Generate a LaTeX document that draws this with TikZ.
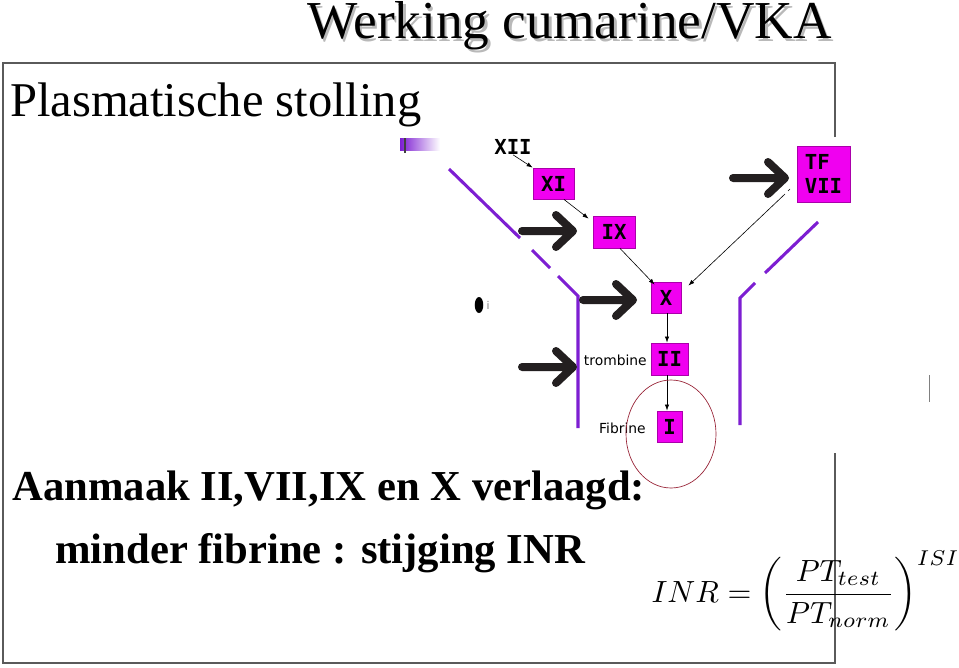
\documentclass[tikz,border=0pt]{standalone}
\usepackage{fontspec}
\setmainfont{Liberation Serif}
\newfontfamily\vsans{DejaVu Sans}
\newfontfamily\vmono{DejaVu Sans Mono}
\usetikzlibrary{calc,arrows.meta}
\definecolor{mag}{RGB}{240,0,240}
\definecolor{magborder}{RGB}{170,0,170}
\definecolor{purp}{RGB}{125,30,210}
\definecolor{arrblack}{RGB}{35,31,32}
\definecolor{ringred}{RGB}{150,30,50}
\definecolor{framegray}{RGB}{90,90,90}
\tikzset{
  factor/.style={draw=magborder, line width=0.6pt, fill=mag, inner sep=0pt,
    font=\vmono\bfseries\fontsize{15.5}{17.5}\selectfont},
  lbl/.style={inner sep=0pt, font=\vsans\fontsize{10.4}{12}\selectfont},
  thinarr/.style={line width=0.45pt, -{Latex[length=4.5pt,width=3.2pt]}},
  purpline/.style={purp, line width=2.3pt},
  bigarrow/.style={arrblack, line width=6pt, line cap=round, line join=round},
}
\newcommand\bigarr[2]{\draw[bigarrow] (#1) -- ++(#2,0) ++(-17,-16) -- ++(17,16) -- ++(-17,16);}
\begin{document}
\begin{tikzpicture}[x=0.75pt,y=-0.75pt]
\useasboundingbox (0,0) rectangle (959,667);
\fill[white] (0,0) rectangle (959,667);
% frame
\draw[line width=0.9pt, framegray] (835,137) -- (835,63) -- (3,63) -- (3,663) -- (835,663) -- (835,453);
\draw[line width=0.6pt, gray] (929,375) -- (929,402);
% titles
\node[anchor=base west, inner sep=0, text=gray!55, font=\fontsize{40}{40}\selectfont] at (309.5,41) {Werking cumarine/VKA};
\node[anchor=base west, inner sep=0, font=\fontsize{40}{40}\selectfont] (title) at (307,38.5) {Werking cumarine/VKA};
\node[anchor=base west, inner sep=0, font=\fontsize{36.4}{36}\selectfont] (plasma) at (10,116) {Plasmatische stolling};
\node[anchor=base west, inner sep=0, font=\bfseries\fontsize{32}{32}\selectfont] (aanmaak) at (12,500) {Aanmaak II,VII,IX en X verlaagd:};
\node[anchor=base west, inner sep=0, font=\bfseries\fontsize{32}{32}\selectfont] (minder) at (55,563) {minder fibrine : stijging INR};
% formula
\node[anchor=base west, inner sep=0, scale=2.3] (inr) at (651,602) {$\displaystyle INR=\left(\frac{PT_{test}}{PT_{norm}}\right)^{ISI}$};
% purple gradient mark
\shade[left color=purp, right color=white] (400,138) rectangle (440,150);
\draw[line width=1.5pt, gray!50!black] (405,138) -- (405,153);
% purple membrane lines
\draw[purpline] (449,169) -- (520,238);
\draw[purpline] (532,250) -- (550,268);
\draw[purpline] (558,276) -- (578,296) -- (578,428);
\draw[purpline] (818,222) -- (765,273);
\draw[purpline] (755,283) -- (740,298) -- (740,425);
% factors
\node[inner sep=0, font=\vmono\bfseries\fontsize{15.5}{15.5}\selectfont] (XII) at (513,147) {XII};
\node[factor, minimum width=30.75pt, minimum height=23.25pt] (XI) at (553.5,183.5) {XI};
\node[factor, minimum width=31.5pt, minimum height=24pt] (IX) at (614,232) {IX};
\node[factor, minimum width=39.75pt, minimum height=42pt, align=left] (TF) at (823.5,174) {TF\\VII};
\node[factor, minimum width=22.5pt, minimum height=23.25pt] (X) at (666,297.5) {X};
\node[factor, minimum width=27.75pt, minimum height=24pt] (II) at (669.5,359) {II};
\node[factor, minimum width=18.75pt, minimum height=23.25pt] (I) at (669.5,426.5) {I};
\node[lbl, anchor=east] (trombine) at (647,360) {trombine};
\node[lbl, anchor=east] (fibrine) at (646,428) {Fibrine};
% artifact glyph
\fill[black] (479,305) ellipse [x radius=3.2pt, y radius=6pt];
\node[inner sep=0, text=gray, font=\vsans\fontsize{8}{8}\selectfont] (iart) at (488,305) {i};
% thin connectors
\coordinate (tfs) at (785,194);
\coordinate (xs) at ($(X.south)+(1,0)$);
\coordinate (iis) at ($(II.south)+(-2.5,0)$);
\draw[thinarr] (XII.south) -- (XI.north west);
\draw[thinarr] ($(XI.south)!0.5!(XI.south east)$) -- ($(IX.north west)+(-4,3)$);
\draw[thinarr] ($(IX.south)+(6,0)$) -- ($(X.north west)+(4,3)$);
\draw[line width=0.45pt] ($(tfs)+(3,-3)$) -- ++(2,-2);
\draw[thinarr] (tfs) -- ($(X.north east)+(7,4)$);
\draw[thinarr] (xs) -- (xs |- II.north);
\draw[thinarr] (iis) -- (iis |- I.north);
% ring around fibrine
\draw[ringred, line width=0.5pt] (671,434) ellipse [x radius=33.75pt, y radius=40.5pt];
% big black arrows
\bigarr{522,231}{51}
\bigarr{733,178}{52}
\bigarr{583,300}{50}
\bigarr{522,367}{51}
\end{tikzpicture}
\end{document}
